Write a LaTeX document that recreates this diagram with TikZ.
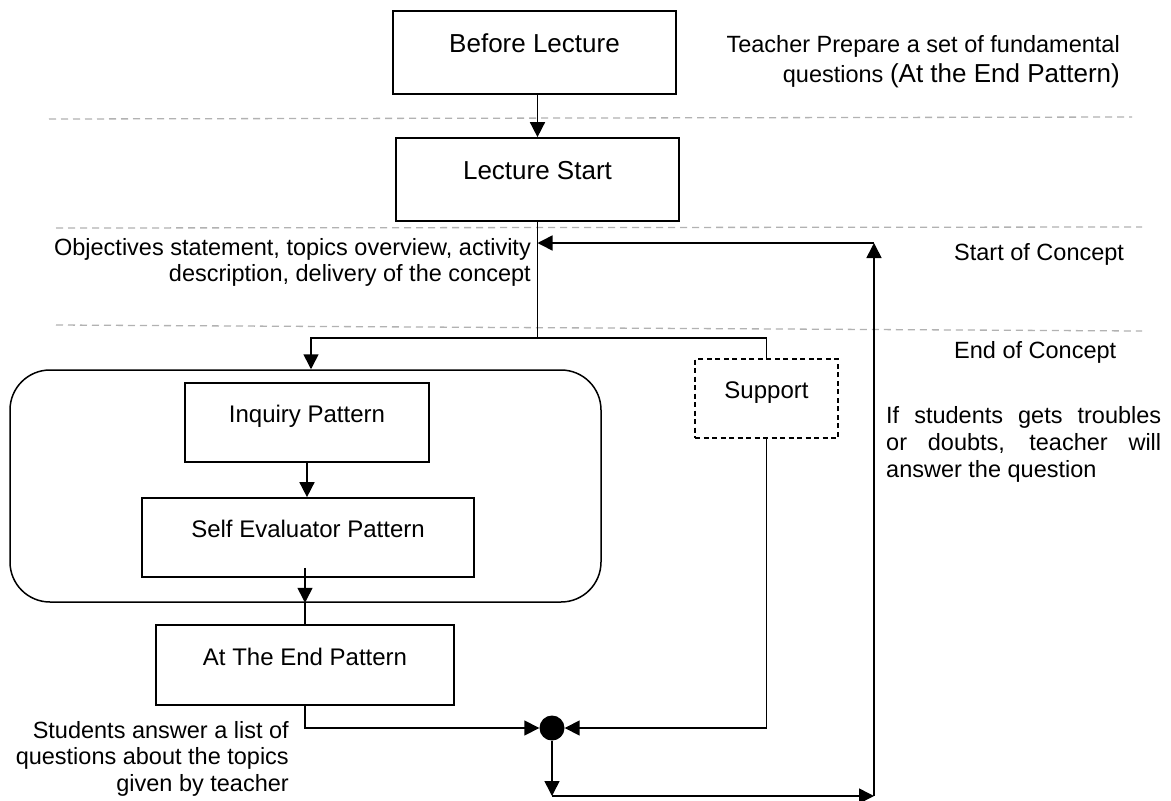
\documentclass[tikz,border=0pt]{standalone}
\usepackage{fontspec}
\setmainfont{Liberation Sans}
\usetikzlibrary{arrows.meta}
\begin{document}
\begin{tikzpicture}[x=1pt,y=-1pt,
  box/.style={draw, line width=1.7pt, inner sep=0pt, text height=12pt, text depth=12pt, font=\fontsize{24}{28}\selectfont},
  bigbox/.style={box, font=\fontsize{26}{30}\selectfont},
  conn/.style={line width=1.6pt},
  arr/.style={conn, -{Triangle[length=15pt,width=15pt]}},
  sepline/.style={draw=black!30, line width=1.3pt, dash pattern=on 7pt off 5pt},
  note/.style={inner sep=0pt, font=\fontsize{23.5}{28}\selectfont},
]
\fill[white] (0,0) rectangle (1171,801);
\useasboundingbox (0,0) rectangle (1171,801);

% separators
\draw[sepline] (49,119) -- (1132,117);
\draw[sepline] (56,228) -- (1142,227);
\draw[sepline] (56,325) -- (1142,331);

% boxes
\node[bigbox, minimum width=283pt, minimum height=83pt] (before) at (534.5,52.5) {Before Lecture};
\node[bigbox, minimum width=283pt, minimum height=83pt] (start) at (537.5,179.5) {Lecture Start};
\node[draw, line width=1.5pt, rounded corners=40pt, minimum width=591pt, minimum height=232pt, inner sep=0pt] (group) at (305.5,486) {};
\node[box, minimum width=244pt, minimum height=79pt] (inquiry) at (307,422.5) {Inquiry Pattern};
\node[box, minimum width=332pt, minimum height=79pt] (selfev) at (308,537.5) {Self Evaluator Pattern};
\node[box, minimum width=298pt, minimum height=80pt] (atend) at (305,665) {At The End Pattern};
\node[box, line width=1.5pt, dash pattern=on 5pt off 3.5pt, minimum width=143pt, minimum height=79pt] (support) at (766.5,398.5) {Support};
\node[circle, fill=black, minimum size=25pt, inner sep=0pt] (join) at (552,728) {};

% annotations
\node[note, anchor=base east] (teach1) at (1120,52) {Teacher Prepare a set of fundamental};
\node[note, anchor=base east] (teach2) at (1120,82) {questions {\fontsize{26}{30}\selectfont(At the End Pattern)}};
\node[note, anchor=base east] (obj1) at (531,255) {Objectives statement, topics overview, activity};
\node[note, anchor=base east] (obj2) at (531,281) {description, delivery of the concept};
\node[note, anchor=base west] (soc) at (954,260) {Start of Concept};
\node[note, anchor=base west] (eoc) at (954,358) {End of Concept};
\node[note, anchor=base west] (if1) at (886,423) {\makebox[275pt][s]{If students gets troubles}};
\node[note, anchor=base west] (if2) at (886,450) {\makebox[275pt][s]{or doubts, teacher will}};
\node[note, anchor=base west] (if3) at (886,477) {answer the question};
\node[note, anchor=base east] (stu1) at (289,738) {Students answer a list of};
\node[note, anchor=base east] (stu2) at (289,764) {questions about the topics};
\node[note, anchor=base east] (stu3) at (289,791) {given by teacher};

% connectors
\draw[arr] (start.north |- before.south) -- (start.north);
\coordinate (split) at (537.5,338);
\draw[conn] (start.south) -- (split) -| (support.north);
\draw[arr] (split) -| ([xshift=4pt]inquiry.north |- group.north);
\draw[arr] (inquiry.south) -- (inquiry.south |- selfev.north);
\coordinate (s1) at ([yshift=10pt]selfev.south -| atend.north);
\draw[arr] (s1) -- (s1 |- group.south);
\draw[conn] (atend.north |- group.south) -- (atend.north);
\draw[arr] (atend.south) |- (join.west);
\draw[arr] (support.south) |- (join.east);
\coordinate (bl) at (552,796);
\coordinate (br) at (874,796);
\coordinate (tr) at (874,243);
\draw[arr] (join.south) -- (bl);
\draw[arr] (bl) -- (br);
\draw[arr] (br) -- (tr);
\draw[arr] (tr) -- (tr -| start.south);
\end{tikzpicture}
\end{document}
